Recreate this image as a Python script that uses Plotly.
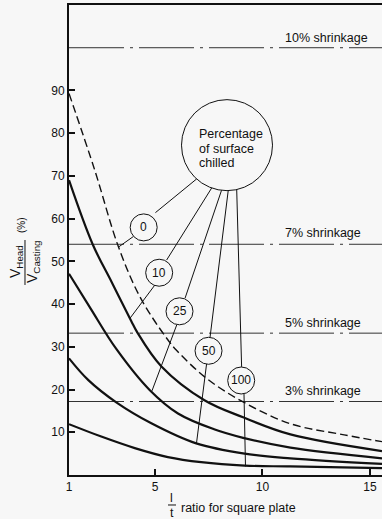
import plotly.graph_objects as go

# ---------------- data ----------------
x_ticks = [1, 5, 10, 15]
y_ticks = [10, 20, 30, 40, 50, 60, 70, 80, 90]

x_chill0 = [1, 2.2, 3.3, 4.3, 5.5, 6.0, 7.4, 9.1, 11.3, 13.8, 15.56]
y_chill0 = [89.3, 71.3, 53.4, 41.7, 32.3, 29.2, 22.6, 17.1, 12.0, 9.4, 7.8]

x_chill10 = [1, 2.1, 3.0, 3.9, 4.15, 5.3, 7.3, 9.1, 11.3, 15.56]
y_chill10 = [69, 54, 45, 36, 33.6, 25.4, 17.5, 13.5, 9.5, 5.6]

x_chill25 = [1, 2.0, 3.2, 4.75, 6.07, 7.75, 9.1, 11.3, 15.56]
y_chill25 = [47.1, 39, 29.5, 19.9, 14.4, 10.7, 8.7, 6.4, 3.9]

x_chill50 = [1, 1.9, 3.2, 4.83, 6.92, 9.17, 11.3, 15.56]
y_chill50 = [27.3, 22.2, 17.0, 12.1, 7.4, 5.0, 3.9, 2.6]

x_chill100 = [1, 2.5, 4.06, 5.6, 7.15, 9.17, 11.3, 15.56]
y_chill100 = [11.9, 9.0, 6.3, 4.2, 3.0, 2.2, 2.0, 1.6]

shrink_labels = ["10% shrinkage", "7% shrinkage", "5% shrinkage", "3% shrinkage"]
shrink_levels = [100, 54, 33.2, 17.2]

chill_labels = ["0", "10", "25", "50", "100"]

# ---------------- styling ----------------
BG = "#f7f7f7"
INK = "#111111"
FONT = "Arial, Liberation Sans, Helvetica, sans-serif"
X0, X1 = 1, 15.56
Y0, Y1 = 0, 110

fig = go.Figure()

curves = [
    (x_chill0, y_chill0, dict(color=INK, width=1.4, dash="8px,4px")),
    (x_chill10, y_chill10, dict(color=INK, width=2.2)),
    (x_chill25, y_chill25, dict(color=INK, width=2.2)),
    (x_chill50, y_chill50, dict(color=INK, width=2.2)),
    (x_chill100, y_chill100, dict(color=INK, width=2.2)),
]
for (xs, ys, ln), name in zip(curves, chill_labels):
    fig.add_trace(go.Scatter(x=xs, y=ys, mode="lines", name=name,
                             line=dict(shape="spline", smoothing=1.0, **ln),
                             showlegend=False, hoverinfo="skip"))

shapes = []
annotations = []

# shrinkage reference lines and labels
label_offsets = [2.3, 2.6, 2.4, 2.5]
for lab, lev, off in zip(shrink_labels, shrink_levels, label_offsets):
    shapes.append(dict(type="line", xref="x", yref="y", x0=X0, x1=X1, y0=lev, y1=lev,
                       line=dict(color="#333333", width=1, dash="55px,6px,3px,6px"),
                       layer="below"))
    annotations.append(dict(x=10.95, y=lev + off, xref="x", yref="y", text=lab,
                            showarrow=False, xanchor="left", yanchor="middle",
                            font=dict(size=12.5, color=INK, family=FONT)))

# leader lines (data coordinates: l/t ratio, %)
leaders = [
    (6.94, 69.3, 5.02, 61.4), (7.64, 67.2, 5.54, 50.3), (8.10, 66.7, 6.40, 41.4),
    (8.41, 66.7, 7.56, 32.2), (8.80, 67.0, 9.03, 25.3),
    (3.99, 55.8, 3.29, 53.3), (5.00, 44.5, 3.84, 36.7), (6.01, 35.1, 4.86, 19.7),
    (7.40, 26.0, 6.93, 7.4), (9.14, 19.0, 9.21, 2.0),
]
for xa, ya, xb, yb in leaders:
    shapes.append(dict(type="line", xref="x", yref="y", x0=xa, y0=ya, x1=xb, y1=yb,
                       line=dict(color=INK, width=1)))

# big circle
shapes.append(dict(type="circle", xref="x", yref="y", xsizemode="pixel", ysizemode="pixel",
                   xanchor=8.35, yanchor=77.2, x0=-45.5, x1=45.5, y0=-45.5, y1=45.5,
                   fillcolor=BG, line=dict(color=INK, width=1)))
for txt, yy in zip(["Percentage", "of surface", "chilled"], [79.8, 76.4, 73.1]):
    annotations.append(dict(x=6.94, y=yy, xref="x", yref="y", text=txt, showarrow=False,
                            xanchor="left", yanchor="middle",
                            font=dict(size=12.5, color=INK, family=FONT)))

# small numbered circles
small_pos = [(4.474, 57.95), (5.195, 47.34), (6.14, 38.31), (7.49, 29.07), (9.01, 22.12)]
for lab, (cx, cy) in zip(chill_labels, small_pos):
    shapes.append(dict(type="circle", xref="x", yref="y", xsizemode="pixel", ysizemode="pixel",
                       xanchor=cx, yanchor=cy, x0=-13.5, x1=13.5, y0=-13.5, y1=13.5,
                       fillcolor=BG, line=dict(color=INK, width=1)))
    annotations.append(dict(x=cx, y=cy, xref="x", yref="y", text=lab, showarrow=False,
                            xanchor="center", yanchor="middle",
                            font=dict(size=12, color=INK, family=FONT)))

# y-axis title as a fraction
annotations += [
    dict(x=-0.1693, y=0.4532, xref="paper", yref="paper", text="V<sub>Head</sub>",
         textangle=-90, showarrow=False, xanchor="center", yanchor="middle",
         font=dict(size=14, color=INK, family=FONT)),
    dict(x=-0.1150, y=0.4532, xref="paper", yref="paper", text="V<sub>Casting</sub>",
         textangle=-90, showarrow=False, xanchor="center", yanchor="middle",
         font=dict(size=14, color=INK, family=FONT)),
    dict(x=-0.1534, y=0.5319, xref="paper", yref="paper", text="(%)",
         textangle=-90, showarrow=False, xanchor="center", yanchor="middle",
         font=dict(size=10, color=INK, family=FONT)),
]
shapes.append(dict(type="line", xref="paper", yref="paper", x0=-0.1406, x1=-0.1406,
                   y0=0.500, y1=0.4043, line=dict(color=INK, width=1)))

# x-axis title with l/t fraction
annotations += [
    dict(x=0.3281, y=-0.0489, xref="paper", yref="paper", text="l", showarrow=False,
         xanchor="center", yanchor="middle", font=dict(size=12.5, color=INK, family=FONT)),
    dict(x=0.3281, y=-0.0809, xref="paper", yref="paper", text="t", showarrow=False,
         xanchor="center", yanchor="middle", font=dict(size=12.5, color=INK, family=FONT)),
    dict(x=0.3524, y=-0.0709, xref="paper", yref="paper", text="ratio for square plate",
         showarrow=False, xanchor="left", yanchor="middle",
         font=dict(size=12.5, color=INK, family=FONT)),
]
shapes.append(dict(type="line", xref="paper", yref="paper", x0=0.3163, x1=0.3419,
                   y0=-0.0638, y1=-0.0638, line=dict(color=INK, width=1)))

fig.update_layout(
    width=382, height=519,
    margin=dict(l=69, r=0, t=5, b=44),
    paper_bgcolor=BG, plot_bgcolor=BG,
    font=dict(family=FONT, size=12, color=INK),
    shapes=shapes, annotations=annotations,
    xaxis=dict(range=[X0, X1], tickvals=x_ticks, ticktext=[str(v) for v in x_ticks],
               ticks="inside", ticklen=6, tickwidth=1.5, tickcolor=INK,
               showline=True, linewidth=2, linecolor=INK, mirror=True,
               showgrid=False, zeroline=False, tickfont=dict(size=12, color=INK)),
    yaxis=dict(range=[Y0, Y1], tickvals=y_ticks, ticktext=[str(v) for v in y_ticks],
               ticks="inside", ticklen=6, tickwidth=1.5, tickcolor=INK,
               showline=True, linewidth=2, linecolor=INK,
               showgrid=False, zeroline=False, tickfont=dict(size=12, color=INK)),
)

fig.write_html(
    "out.html",
    config={"displayModeBar": False},
    post_script="document.body.style.margin='0';document.body.style.overflow='hidden';"
                "document.documentElement.style.overflow='hidden';"
                "document.body.style.background='" + BG + "';",
)
